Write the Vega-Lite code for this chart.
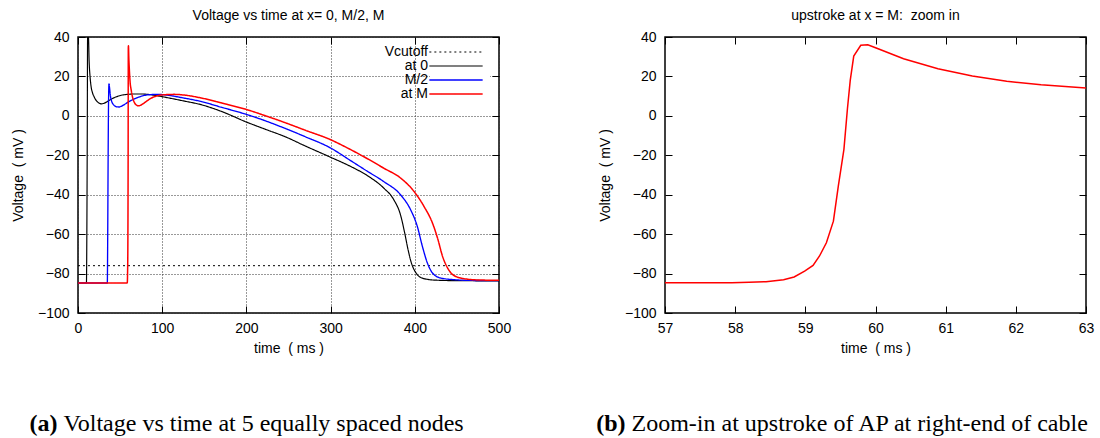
{
  "$schema": "https://vega.github.io/schema/vega-lite/v6.json",
  "background": "white",
  "padding": {"left": 10, "top": 8, "right": 5, "bottom": 0},
  "config": {
    "font": "Liberation Sans",
    "view": {"stroke": "black", "strokeWidth": 1.5},
    "axis": {"labelFont": "Liberation Sans", "labelFontSize": 14, "labelColor": "black", "titleFont": "Liberation Sans", "titleFontSize": 14, "titleFontWeight": "normal", "titleColor": "black", "tickColor": "black", "tickSize": -7, "tickWidth": 1, "domain": false, "gridColor": "#333333", "gridDash": [1, 2], "gridWidth": 1, "gridOpacity": 1, "labelFlush": false},
    "title": {"font": "Liberation Sans", "fontSize": 14, "fontWeight": "normal", "color": "black", "offset": 7, "frame": "group"},
    "legend": {"orient": "none", "legendX": 352, "legendY": 4, "title": null, "labelFont": "Liberation Sans", "labelFontSize": 14, "labelColor": "black", "symbolType": "M-5.33,0H5.33", "symbolSize": 100, "symbolOffset": 15, "labelAlign": "right", "labelOffset": -35, "fillColor": "white", "padding": 4, "rowPadding": 0}
  },
  "datasets": {
    "left": [
      {"s": "Vcutoff", "t": 0, "V": -76}, {"s": "Vcutoff", "t": 500, "V": -76},
      {"s": "at 0", "t": 0, "V": -84.8}, {"s": "at 0", "t": 10.0, "V": -84.8}, {"s": "at 0", "t": 10.5, "V": -60}, {"s": "at 0", "t": 11.0, "V": -10}, {"s": "at 0", "t": 11.4, "V": 45}, {"s": "at 0", "t": 11.9, "V": 52}, {"s": "at 0", "t": 12.4, "V": 40}, {"s": "at 0", "t": 13.2, "V": 28}, {"s": "at 0", "t": 14.3, "V": 20}, {"s": "at 0", "t": 15.5, "V": 15}, {"s": "at 0", "t": 17, "V": 12}, {"s": "at 0", "t": 19, "V": 9.8}, {"s": "at 0", "t": 22, "V": 7.6}, {"s": "at 0", "t": 25, "V": 6.5}, {"s": "at 0", "t": 28, "V": 6.1}, {"s": "at 0", "t": 31, "V": 6.4}, {"s": "at 0", "t": 35, "V": 7.3}, {"s": "at 0", "t": 40, "V": 8.6}, {"s": "at 0", "t": 47, "V": 9.9}, {"s": "at 0", "t": 53, "V": 10.6}, {"s": "at 0", "t": 59, "V": 10.9}, {"s": "at 0", "t": 67, "V": 11.1}, {"s": "at 0", "t": 75, "V": 11.1}, {"s": "at 0", "t": 85, "V": 10.8}, {"s": "at 0", "t": 94, "V": 10.2}, {"s": "at 0", "t": 110, "V": 8.9}, {"s": "at 0", "t": 125, "V": 7.6}, {"s": "at 0", "t": 146, "V": 5.7}, {"s": "at 0", "t": 170, "V": 2.3}, {"s": "at 0", "t": 201, "V": -3.3}, {"s": "at 0", "t": 225, "V": -7.2}, {"s": "at 0", "t": 245, "V": -10.4}, {"s": "at 0", "t": 270, "V": -15.3}, {"s": "at 0", "t": 300, "V": -21}, {"s": "at 0", "t": 324, "V": -25.7}, {"s": "at 0", "t": 344, "V": -30.4}, {"s": "at 0", "t": 363, "V": -36.6}, {"s": "at 0", "t": 375, "V": -42.5}, {"s": "at 0", "t": 383, "V": -50.2}, {"s": "at 0", "t": 388, "V": -59.4}, {"s": "at 0", "t": 392, "V": -67.9}, {"s": "at 0", "t": 396, "V": -74.7}, {"s": "at 0", "t": 401, "V": -79.4}, {"s": "at 0", "t": 409, "V": -82.3}, {"s": "at 0", "t": 423, "V": -83.3}, {"s": "at 0", "t": 450, "V": -83.6}, {"s": "at 0", "t": 500, "V": -83.7},
      {"s": "M/2", "t": 0, "V": -84.8}, {"s": "M/2", "t": 34.8, "V": -84.8}, {"s": "M/2", "t": 35.3, "V": -60}, {"s": "M/2", "t": 35.8, "V": -20}, {"s": "M/2", "t": 36.3, "V": 8}, {"s": "M/2", "t": 36.8, "V": 16.2}, {"s": "M/2", "t": 37.4, "V": 14.5}, {"s": "M/2", "t": 38.4, "V": 10.5}, {"s": "M/2", "t": 39.8, "V": 7.6}, {"s": "M/2", "t": 41.5, "V": 6}, {"s": "M/2", "t": 43.5, "V": 5.1}, {"s": "M/2", "t": 46, "V": 4.6}, {"s": "M/2", "t": 48.5, "V": 4.5}, {"s": "M/2", "t": 51, "V": 4.8}, {"s": "M/2", "t": 54.5, "V": 5.6}, {"s": "M/2", "t": 60, "V": 7.1}, {"s": "M/2", "t": 66.5, "V": 8.5}, {"s": "M/2", "t": 74, "V": 9.8}, {"s": "M/2", "t": 82, "V": 10.6}, {"s": "M/2", "t": 94, "V": 10.9}, {"s": "M/2", "t": 106, "V": 10.5}, {"s": "M/2", "t": 125, "V": 9.1}, {"s": "M/2", "t": 146, "V": 7.3}, {"s": "M/2", "t": 170, "V": 4.4}, {"s": "M/2", "t": 201, "V": 0.6}, {"s": "M/2", "t": 225, "V": -2.9}, {"s": "M/2", "t": 245, "V": -6.2}, {"s": "M/2", "t": 270, "V": -10.6}, {"s": "M/2", "t": 300, "V": -16.3}, {"s": "M/2", "t": 323, "V": -22.5}, {"s": "M/2", "t": 344, "V": -28.2}, {"s": "M/2", "t": 363, "V": -33.3}, {"s": "M/2", "t": 383, "V": -40}, {"s": "M/2", "t": 395, "V": -47.6}, {"s": "M/2", "t": 403, "V": -56.1}, {"s": "M/2", "t": 409, "V": -66.2}, {"s": "M/2", "t": 415, "V": -74.7}, {"s": "M/2", "t": 421, "V": -79.7}, {"s": "M/2", "t": 431, "V": -82.3}, {"s": "M/2", "t": 447, "V": -83.1}, {"s": "M/2", "t": 470, "V": -83.5}, {"s": "M/2", "t": 500, "V": -83.6},
      {"s": "at M", "t": 0, "V": -84.8}, {"s": "at M", "t": 58.5, "V": -84.8}, {"s": "at M", "t": 58.9, "V": -79}, {"s": "at M", "t": 59.2, "V": -67}, {"s": "at M", "t": 59.4, "V": -45}, {"s": "at M", "t": 59.55, "V": -17}, {"s": "at M", "t": 59.65, "V": 18}, {"s": "at M", "t": 59.75, "V": 34.8}, {"s": "at M", "t": 59.9, "V": 35.5}, {"s": "at M", "t": 60.4, "V": 29}, {"s": "at M", "t": 61, "V": 23.5}, {"s": "at M", "t": 62, "V": 16.5}, {"s": "at M", "t": 63, "V": 13.6}, {"s": "at M", "t": 64.5, "V": 10}, {"s": "at M", "t": 66.5, "V": 7.2}, {"s": "at M", "t": 69, "V": 5.6}, {"s": "at M", "t": 71.5, "V": 5.1}, {"s": "at M", "t": 75, "V": 5.5}, {"s": "at M", "t": 78.5, "V": 6.5}, {"s": "at M", "t": 84, "V": 8.2}, {"s": "at M", "t": 90, "V": 9.6}, {"s": "at M", "t": 102, "V": 10.7}, {"s": "at M", "t": 114, "V": 10.9}, {"s": "at M", "t": 125, "V": 10.6}, {"s": "at M", "t": 146, "V": 9.1}, {"s": "at M", "t": 170, "V": 6.6}, {"s": "at M", "t": 201, "V": 3.1}, {"s": "at M", "t": 225, "V": -0.3}, {"s": "at M", "t": 245, "V": -3.3}, {"s": "at M", "t": 270, "V": -7.3}, {"s": "at M", "t": 300, "V": -12.1}, {"s": "at M", "t": 321, "V": -16.5}, {"s": "at M", "t": 344, "V": -21.8}, {"s": "at M", "t": 363, "V": -26.5}, {"s": "at M", "t": 383, "V": -31.5}, {"s": "at M", "t": 399, "V": -38.3}, {"s": "at M", "t": 411, "V": -46}, {"s": "at M", "t": 421, "V": -54.4}, {"s": "at M", "t": 427, "V": -62}, {"s": "at M", "t": 433, "V": -71.3}, {"s": "at M", "t": 439, "V": -77.2}, {"s": "at M", "t": 447, "V": -81.1}, {"s": "at M", "t": 462, "V": -82.8}, {"s": "at M", "t": 480, "V": -83.3}, {"s": "at M", "t": 500, "V": -83.4}
    ],
    "zoom": [
      {"t": 57, "V": -84.7}, {"t": 57.5, "V": -84.7}, {"t": 57.95, "V": -84.6}, {"t": 58.2, "V": -84.4}, {"t": 58.44, "V": -84.1}, {"t": 58.69, "V": -83.1}, {"t": 58.84, "V": -81.7}, {"t": 58.99, "V": -78.8}, {"t": 59.11, "V": -75.9}, {"t": 59.2, "V": -71.2}, {"t": 59.3, "V": -64.4}, {"t": 59.4, "V": -53.4}, {"t": 59.47, "V": -35.6}, {"t": 59.55, "V": -17}, {"t": 59.6, "V": 3.6}, {"t": 59.64, "V": 18}, {"t": 59.69, "V": 30.3}, {"t": 59.79, "V": 35.8}, {"t": 59.89, "V": 36.1}, {"t": 60.01, "V": 34.4}, {"t": 60.4, "V": 29}, {"t": 60.89, "V": 23.9}, {"t": 61.38, "V": 20.2}, {"t": 61.87, "V": 17.5}, {"t": 62.36, "V": 15.8}, {"t": 63, "V": 14.1}
    ]
  },
  "spacing": 84,
  "resolve": {"scale": {"color": "independent", "strokeDash": "independent", "strokeWidth": "independent"}, "legend": {"color": "independent", "strokeDash": "independent", "strokeWidth": "independent"}},
  "hconcat": [
    {
      "bounds": "flush",
      "spacing": 101,
      "resolve": {"scale": {"color": "independent", "strokeDash": "independent", "strokeWidth": "independent"}, "legend": {"color": "independent", "strokeDash": "independent", "strokeWidth": "independent"}},
      "vconcat": [
        {
          "width": 421, "height": 276,
          "title": {"text": "Voltage vs time at x= 0, M/2, M"},
          "data": {"name": "left"},
          "layer": [
            {
              "mark": {"type": "line", "clip": true, "interpolate": "monotone"},
              "encoding": {
                "x": {"field": "t", "type": "quantitative", "scale": {"domain": [0, 500], "nice": false, "zero": false}, "axis": {"orient": "bottom", "values": [0, 100, 200, 300, 400, 500], "grid": true, "title": "time\u00a0\u00a0( ms )", "labelPadding": 15, "titlePadding": 6}},
                "y": {"field": "V", "type": "quantitative", "scale": {"domain": [-100, 40], "nice": false, "zero": false, "clamp": true}, "axis": {"orient": "left", "values": [-100, -80, -60, -40, -20, 0, 20, 40], "grid": true, "title": "Voltage\u00a0\u00a0( mV )", "labelPadding": 16, "titlePadding": 12}},
                "color": {"field": "s", "type": "nominal", "scale": {"domain": ["Vcutoff", "at 0", "M/2", "at M"], "range": ["#000000", "#000000", "#0000ff", "#ff0000"]}},
                "strokeDash": {"field": "s", "type": "nominal", "scale": {"domain": ["Vcutoff", "at 0", "M/2", "at M"], "range": [[2, 3], [1, 0], [1, 0], [1, 0]]}},
                "strokeWidth": {"field": "s", "type": "nominal", "scale": {"domain": ["Vcutoff", "at 0", "M/2", "at M"], "range": [1, 1.5, 2.5, 1.5]}}
              }
            },
            {
              "mark": {"type": "point", "opacity": 0},
              "encoding": {
                "x": {"field": "t", "type": "quantitative", "axis": {"orient": "top", "values": [0, 100, 200, 300, 400, 500], "labels": false, "title": null, "grid": false}},
                "y": {"field": "V", "type": "quantitative", "axis": {"orient": "right", "values": [-100, -80, -60, -40, -20, 0, 20, 40], "labels": false, "title": null, "grid": false}}
              }
            }
          ],
          "resolve": {"axis": {"x": "independent", "y": "independent"}}
        },
        {
          "width": 421, "height": 20,
          "view": {"stroke": null},
          "data": {"values": [{"b": "(a)", "r": "Voltage vs time at 5 equally spaced nodes"}]},
          "layer": [
            {"mark": {"type": "text", "align": "right", "baseline": "middle", "font": "Liberation Serif", "fontSize": 24, "fontWeight": "bold", "color": "black", "dx": -231}, "encoding": {"text": {"field": "b"}}},
            {"mark": {"type": "text", "align": "left", "baseline": "middle", "font": "Liberation Serif", "fontSize": 24, "fontWeight": "normal", "color": "black", "dx": -225}, "encoding": {"text": {"field": "r"}}}
          ]
        }
      ]
    },
    {
      "bounds": "flush",
      "spacing": 101,
      "vconcat": [
        {
          "width": 421, "height": 276,
          "title": {"text": "upstroke at x = M:\u00a0 zoom in"},
          "data": {"name": "zoom"},
          "layer": [
            {
              "mark": {"type": "line", "color": "#ff0000", "strokeWidth": 1.5, "clip": true},
              "encoding": {
                "x": {"field": "t", "type": "quantitative", "scale": {"domain": [57, 63], "nice": false, "zero": false}, "axis": {"orient": "bottom", "values": [57, 58, 59, 60, 61, 62, 63], "format": "d", "grid": false, "title": "time\u00a0\u00a0( ms )", "labelPadding": 15, "titlePadding": 6}},
                "y": {"field": "V", "type": "quantitative", "scale": {"domain": [-100, 40], "nice": false, "zero": false}, "axis": {"orient": "left", "values": [-100, -80, -60, -40, -20, 0, 20, 40], "grid": false, "title": "Voltage\u00a0\u00a0( mV )", "labelPadding": 16, "titlePadding": 12}}
              }
            },
            {
              "mark": {"type": "point", "opacity": 0},
              "encoding": {
                "x": {"field": "t", "type": "quantitative", "axis": {"orient": "top", "values": [57, 58, 59, 60, 61, 62, 63], "labels": false, "title": null, "grid": false}},
                "y": {"field": "V", "type": "quantitative", "axis": {"orient": "right", "values": [-100, -80, -60, -40, -20, 0, 20, 40], "labels": false, "title": null, "grid": false}}
              }
            }
          ],
          "resolve": {"axis": {"x": "independent", "y": "independent"}}
        },
        {
          "width": 421, "height": 20,
          "view": {"stroke": null},
          "data": {"values": [{"b": "(b)", "r": "Zoom-in at upstroke of AP at right-end of cable"}]},
          "layer": [
            {"mark": {"type": "text", "align": "right", "baseline": "middle", "font": "Liberation Serif", "fontSize": 24, "fontWeight": "bold", "color": "black", "dx": -250}, "encoding": {"text": {"field": "b"}}},
            {"mark": {"type": "text", "align": "left", "baseline": "middle", "font": "Liberation Serif", "fontSize": 24, "fontWeight": "normal", "color": "black", "dx": -244}, "encoding": {"text": {"field": "r"}}}
          ]
        }
      ]
    }
  ]
}
